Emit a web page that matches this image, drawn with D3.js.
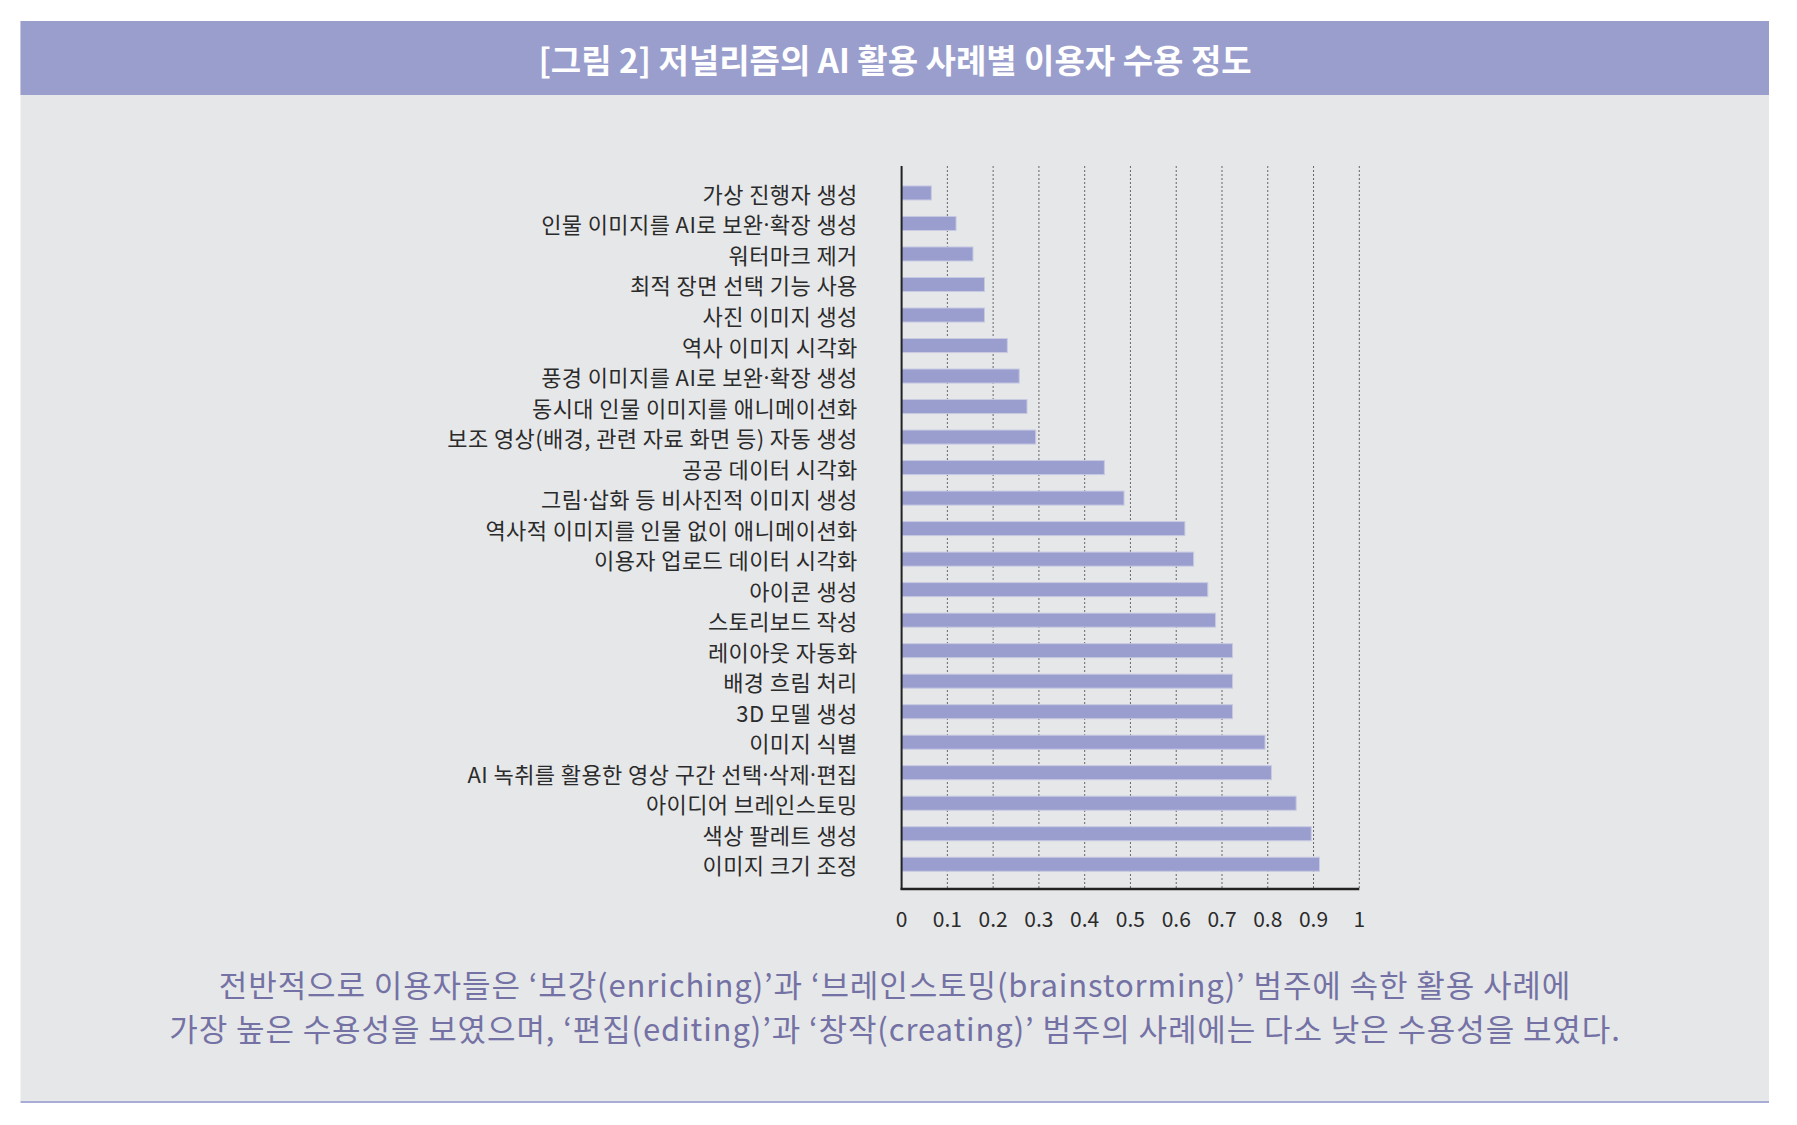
<!DOCTYPE html>
<html>
<head>
<meta charset="utf-8">
<script src="https://cdn.jsdelivr.net/npm/d3@7"></script>
<style>
  body { margin: 0; background: #fff; }
  text { font-family: "Noto Sans CJK KR", "Noto Sans", sans-serif; }
</style>
</head>
<body>
<svg id="chart" width="1797" height="1125"></svg>
<script>
// 저널리즘의 AI 활용 사례별 이용자 수용 정도
var categories = [
  "가상 진행자 생성",
  "인물 이미지를 AI로 보완·확장 생성",
  "워터마크 제거",
  "최적 장면 선택 기능 사용",
  "사진 이미지 생성",
  "역사 이미지 시각화",
  "풍경 이미지를 AI로 보완·확장 생성",
  "동시대 인물 이미지를 애니메이션화",
  "보조 영상(배경, 관련 자료 화면 등) 자동 생성",
  "공공 데이터 시각화",
  "그림·삽화 등 비사진적 이미지 생성",
  "역사적 이미지를 인물 없이 애니메이션화",
  "이용자 업로드 데이터 시각화",
  "아이콘 생성",
  "스토리보드 작성",
  "레이아웃 자동화",
  "배경 흐림 처리",
  "3D 모델 생성",
  "이미지 식별",
  "AI 녹취를 활용한 영상 구간 선택·삭제·편집",
  "아이디어 브레인스토밍",
  "색상 팔레트 생성",
  "이미지 크기 조정"
];
var values = [
  0.065, 0.119, 0.156, 0.181, 0.181, 0.231, 0.257, 0.274, 0.293, 0.443,
  0.486, 0.619, 0.638, 0.669, 0.686, 0.723, 0.723, 0.723, 0.794, 0.808,
  0.862, 0.895, 0.913
];
var xTicks = [0, 0.1, 0.2, 0.3, 0.4, 0.5, 0.6, 0.7, 0.8, 0.9, 1];

var title = "[그림 2] 저널리즘의 AI 활용 사례별 이용자 수용 정도";
var note = [
  "전반적으로 이용자들은 ‘보강(enriching)’과 ‘브레인스토밍(brainstorming)’ 범주에 속한 활용 사례에",
  "가장 높은 수용성을 보였으며, ‘편집(editing)’과 ‘창작(creating)’ 범주의 사례에는 다소 낮은 수용성을 보였다."
];

var svg = d3.select("#chart");

// panel + header
svg.append("rect")
  .attr("x", 20.5).attr("y", 21)
  .attr("width", 1748.5).attr("height", 1080)
  .style("fill", "#e6e7e9");
svg.append("rect")
  .attr("x", 20.5).attr("y", 21)
  .attr("width", 1748.5).attr("height", 74)
  .style("fill", "#9a9ecd");
svg.append("line")
  .attr("x1", 20.5).attr("x2", 1769)
  .attr("y1", 1102).attr("y2", 1102)
  .style("stroke", "#a9acd6")
  .style("stroke-width", 2);

svg.append("text")
  .attr("x", 895).attr("y", 59)
  .attr("text-anchor", "middle")
  .attr("dominant-baseline", "central")
  .style("font-size", "33px")
  .style("font-weight", "bold")
  .style("fill", "#fff")
  .text(title);

var x = d3.scaleLinear()
  .domain([0, 1])
  .range([901.6, 1359.3]);

var y = d3.scaleBand()
  .domain(categories)
  .range([177.7, 879.5])
  .paddingInner(0.54)
  .paddingOuter(0.27);

var yTop = 166, yBottom = 889;

// dotted grid
svg.append("g")
  .selectAll("line")
  .data(xTicks.slice(1))
  .enter().append("line")
  .attr("x1", function(d) { return x(d); })
  .attr("x2", function(d) { return x(d); })
  .attr("y1", yTop).attr("y2", yBottom)
  .style("stroke", "#666")
  .style("stroke-width", 1)
  .style("stroke-dasharray", "2,2");

// bars
svg.append("g")
  .selectAll("rect")
  .data(values)
  .enter().append("rect")
  .attr("x", x(0))
  .attr("y", function(d, i) { return y(categories[i]); })
  .attr("width", function(d) { return x(d) - x(0); })
  .attr("height", y.bandwidth())
  .style("fill", "#9a9ecf")
  .style("stroke", "#c8cae2")
  .style("stroke-width", 1);

// category labels (middle dot drawn narrow, not full width)
svg.append("g")
  .selectAll("text")
  .data(categories)
  .enter().append("text")
  .attr("x", 857.7)
  .attr("y", function(d) { return y(d) + y.bandwidth() / 2; })
  .attr("text-anchor", "end")
  .attr("dominant-baseline", "central")
  .style("font-size", "22px")
  .style("letter-spacing", "0.4px")
  .style("fill", "#2b2b2b")
  .each(function(d) {
    var t = d3.select(this);
    d.split("·").forEach(function(part, i) {
      if (i > 0) {
        t.append("tspan").style("font-family", "'Noto Sans'").text("·");
      }
      t.append("tspan").text(part);
    });
  });

// axes lines
svg.append("line")
  .attr("x1", x(0)).attr("x2", x(0))
  .attr("y1", yTop).attr("y2", yBottom + 1)
  .style("stroke", "#222")
  .style("stroke-width", 2);
svg.append("line")
  .attr("x1", x(0) - 1).attr("x2", x(1))
  .attr("y1", yBottom).attr("y2", yBottom)
  .style("stroke", "#222")
  .style("stroke-width", 2.5);

// x tick labels
svg.append("g")
  .selectAll("text")
  .data(xTicks)
  .enter().append("text")
  .attr("x", function(d) { return x(d); })
  .attr("y", 918)
  .attr("text-anchor", "middle")
  .attr("dominant-baseline", "central")
  .style("font-size", "21px")
  .style("fill", "#2b2b2b")
  .text(function(d) { return d3.format("")(d); });

// note under chart
svg.append("g")
  .selectAll("text")
  .data(note)
  .enter().append("text")
  .attr("x", 895)
  .attr("y", function(d, i) { return 983 + i * 44; })
  .attr("text-anchor", "middle")
  .attr("dominant-baseline", "central")
  .style("font-size", "31px")
  .style("letter-spacing", "0.9px")
  .style("fill", "#7472a4")
  .text(function(d) { return d; });
</script>
</body>
</html>
